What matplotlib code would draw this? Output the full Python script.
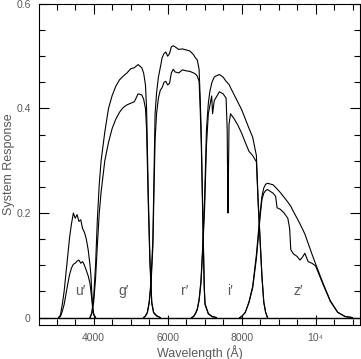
import numpy as np
import matplotlib.pyplot as plt
from matplotlib.ticker import MultipleLocator, FixedLocator, FixedFormatter

plt.rcParams['font.family'] = ['Liberation Sans', 'DejaVu Sans']

# u' filter
u_wl = [3050, 3100, 3150, 3200, 3250, 3300, 3350, 3400, 3450, 3500, 3550, 3600,
        3650, 3700, 3750, 3800, 3850, 3900, 3925, 3950, 3975, 4000, 4050]
u_top = [0, 0.005, 0.025, 0.05, 0.085, 0.12, 0.155, 0.18, 0.2, 0.19, 0.197, 0.184,
         0.187, 0.17, 0.163, 0.15, 0.13, 0.1, 0.08, 0.045, 0.02, 0.007, 0]
u_bot = [0, 0.002, 0.012, 0.025, 0.045, 0.065, 0.083, 0.095, 0.102, 0.104, 0.108, 0.11,
         0.104, 0.107, 0.1, 0.09, 0.08, 0.065, 0.05, 0.033, 0.015, 0.005, 0]

# g' filter
g_wl = [3900, 3950, 4000, 4050, 4100, 4150, 4200, 4300, 4400, 4500, 4600, 4700, 4800, 4900,
        5000, 5100, 5200, 5300, 5350, 5400, 5430, 5475, 5520, 5570, 5620, 5700, 5800]
g_top = [0, 0.01, 0.04, 0.1, 0.19, 0.255, 0.3, 0.355, 0.4, 0.425, 0.443, 0.455, 0.462, 0.468,
         0.476, 0.478, 0.484, 0.478, 0.468, 0.445, 0.40, 0.24, 0.115, 0.03, 0.01, 0.004, 0]
g_bot = [0, 0.008, 0.03, 0.075, 0.14, 0.2, 0.24, 0.3, 0.335, 0.362, 0.38, 0.393, 0.402, 0.407,
         0.41, 0.413, 0.428, 0.426, 0.418, 0.4, 0.36, 0.22, 0.105, 0.027, 0.009, 0.003, 0]

# r' filter
r_wl = [5350, 5400, 5450, 5500, 5550, 5600, 5630, 5660, 5700, 5750, 5800, 5850, 5900, 5950,
        6000, 6050, 6100, 6150, 6200, 6300, 6400, 6500, 6600, 6700, 6750, 6800, 6850, 6880,
        6910, 6950, 6990, 7010, 7100, 7200, 7320]
r_top = [0, 0.003, 0.01, 0.03, 0.07, 0.15, 0.27, 0.39, 0.43, 0.46, 0.478, 0.497, 0.505, 0.508,
         0.5, 0.505, 0.518, 0.52, 0.518, 0.513, 0.514, 0.512, 0.51, 0.503, 0.497, 0.493, 0.475, 0.42,
         0.35, 0.2, 0.06, 0.027, 0.008, 0.002, 0]
r_bot = [0, 0.003, 0.009, 0.027, 0.063, 0.135, 0.24, 0.34, 0.39, 0.42, 0.435, 0.44, 0.45, 0.452,
         0.445, 0.448, 0.468, 0.475, 0.47, 0.468, 0.474, 0.472, 0.471, 0.468, 0.466, 0.462, 0.452, 0.40,
         0.33, 0.19, 0.055, 0.025, 0.007, 0.002, 0]

# i' filter
i_wl = [6650, 6700, 6750, 6800, 6850, 6900, 6950, 7000, 7050, 7100, 7140, 7190, 7215, 7260,
        7300, 7400, 7500, 7580, 7610, 7630, 7645, 7660, 7700, 7800, 7900, 8000, 8100, 8200,
        8300, 8400, 8450, 8500, 8550, 8600, 8650, 8700]
i_top = [0, 0.002, 0.008, 0.016, 0.035, 0.07, 0.14, 0.23, 0.36, 0.41, 0.432, 0.448, 0.453, 0.46,
         0.462, 0.465, 0.46, 0.452, 0.45, 0.448, 0.447, 0.446, 0.44, 0.426, 0.412, 0.398, 0.38, 0.362,
         0.345, 0.31, 0.22, 0.15, 0.08, 0.03, 0.01, 0]
i_bot = [0, 0.002, 0.007, 0.015, 0.032, 0.065, 0.13, 0.21, 0.33, 0.39, 0.405, 0.424, 0.39, 0.415,
         0.42, 0.432, 0.428, 0.42, 0.36, 0.2, 0.28, 0.37, 0.39, 0.38, 0.368, 0.353, 0.335, 0.318,
         0.31, 0.298, 0.215, 0.148, 0.078, 0.029, 0.01, 0]

# z' filter
z_wl = [7950, 8000, 8100, 8200, 8300, 8400, 8450, 8500, 8550, 8600, 8650, 8700, 8850, 8920,
        8960, 9050, 9150, 9250, 9300, 9330, 9400, 9500, 9580, 9650, 9710, 9800, 9900, 10000,
        10200, 10400, 10600, 10800, 11000]
z_top = [0, 0.002, 0.01, 0.03, 0.06, 0.12, 0.16, 0.2, 0.232, 0.248, 0.255, 0.257, 0.254, 0.249,
         0.246, 0.239, 0.23, 0.221, 0.216, 0.213, 0.203, 0.19, 0.179, 0.169, 0.16, 0.142, 0.122, 0.103,
         0.066, 0.032, 0.01, 0.002, 0]
z_bot = [0, 0.002, 0.01, 0.029, 0.057, 0.113, 0.152, 0.192, 0.226, 0.238, 0.243, 0.245, 0.238, 0.232,
         0.21, 0.207, 0.2, 0.19, 0.17, 0.13, 0.122, 0.117, 0.11, 0.116, 0.123, 0.107, 0.104, 0.099,
         0.064, 0.031, 0.01, 0.002, 0]

filter_names = ["u\u2032", "g\u2032", "r\u2032", "i\u2032", "z\u2032"]
label_wl = [3650, 4800, 6470, 7690, 9530]
label_y = 0.05

x_ticks = [4000, 6000, 8000, 10000]
x_ticklabels = ["4000", "6000", "8000", "10\u2074"]
y_ticks = [0, 0.2, 0.4, 0.6]
y_ticklabels = ["0", "0.2", "0.4", "0.6"]

fig = plt.figure(figsize=(3.61, 3.59), dpi=100)
ax = fig.add_axes([0.108, 0.095, 0.889, 0.894])

curves = [(u_wl, u_top, u_bot), (g_wl, g_top, g_bot), (r_wl, r_top, r_bot),
          (i_wl, i_top, i_bot), (z_wl, z_top, z_bot)]
for wl, top, bot in curves:
    ax.plot(wl, top, color='k', lw=0.8)
    ax.plot(wl, bot, color='k', lw=0.8)

ax.axhline(0, color='k', lw=1.0)

for name, xw in zip(filter_names, label_wl):
    ax.text(xw, label_y, name, fontsize=10, color='0.35', ha='center', va='center')

ax.set_xlim(2520, 11200)
ax.set_ylim(-0.014, 0.6)

ax.xaxis.set_major_locator(FixedLocator(x_ticks))
ax.xaxis.set_major_formatter(FixedFormatter(x_ticklabels))
ax.xaxis.set_minor_locator(MultipleLocator(500))
ax.yaxis.set_major_locator(FixedLocator(y_ticks))
ax.yaxis.set_major_formatter(FixedFormatter(y_ticklabels))
ax.yaxis.set_minor_locator(MultipleLocator(0.05))

ax.tick_params(which='both', direction='in', top=True, right=True, width=0.8,
               labelsize=7.5, labelcolor='0.35')
ax.tick_params(which='major', length=7, pad=6)
ax.tick_params(which='minor', length=4)
for s in ax.spines.values():
    s.set_linewidth(0.8)

ax.set_xlabel("Wavelength (\u00c5)", fontsize=9, color='0.35')
ax.set_ylabel("System Response", fontsize=9, color='0.35')
ax.xaxis.set_label_coords(0.5, -0.062)
ax.yaxis.set_label_coords(-0.075, 0.5)

fig.savefig('out.png', dpi=100)
